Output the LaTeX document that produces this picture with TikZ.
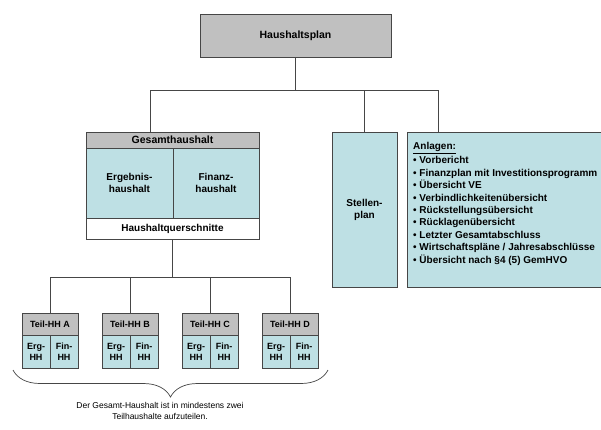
\documentclass[tikz,border=0pt]{standalone}
\usepackage{fontspec}
\setmainfont{Liberation Sans}
\usetikzlibrary{decorations.pathreplacing}
\definecolor{hgray}{RGB}{192,192,192}
\definecolor{hblue}{RGB}{190,224,228}
\definecolor{hline}{RGB}{70,70,70}
\tikzset{
  box/.style={draw=hline, line width=0.7pt, inner sep=0pt, align=center,
    font=\fontsize{10}{12}\selectfont\bfseries},
  graybox/.style={box, fill=hgray},
  bluebox/.style={box, fill=hblue},
  whitebox/.style={box, fill=white},
  smallbox/.style={font=\fontsize{9}{11}\selectfont\bfseries},
  conn/.style={draw=hline, line width=0.8pt},
}
\begin{document}
\begin{tikzpicture}[x=1pt,y=-1pt]
\clip (0,0) rectangle (601,429);
\fill[white] (0,0) rectangle (601,429);
% top
\node[graybox, minimum width=191pt, minimum height=43pt, font=\fontsize{10.5}{12}\selectfont\bfseries] (hp) at (295.5,35.5) {Haushaltsplan};
% Gesamthaushalt
\node[graybox, minimum width=173pt, minimum height=16pt, font=\fontsize{10.5}{12}\selectfont\bfseries] (gesh) at (172.5,140) {Gesamthaushalt};
\node[bluebox, minimum width=87pt, minimum height=70pt] (erg) at (129.5,183) {Ergebnis-\\haushalt};
\node[bluebox, minimum width=86pt, minimum height=70pt] (fin) at (216,183) {Finanz-\\haushalt};
\node[whitebox, minimum width=173pt, minimum height=21pt] (hq) at (172.5,228.5) {Haushaltquerschnitte};
% Stellenplan
\node[bluebox, minimum width=65pt, minimum height=155pt] (st) at (364.5,209.5) {Stellen-\\plan};
% Anlagen
\node[bluebox, minimum width=220pt, minimum height=155pt] (anl) at (517,209.5) {};
\node[anchor=north west, inner sep=0pt, align=left,
  font=\fontsize{10}{12.4}\selectfont\bfseries] (anltxt) at (413,142)
  {\underline{Anlagen:}\\[2pt]
   • Vorbericht\\
   • Finanzplan mit Investitionsprogramm\\
   • Übersicht VE\\
   • Verbindlichkeitenübersicht\\
   • Rückstellungsübersicht\\
   • Rücklagenübersicht\\
   • Letzter Gesamtabschluss\\
   • Wirtschaftspläne / Jahresabschlüsse\\
   • Übersicht nach §4 (5) GemHVO};
% upper bus
\coordinate (bus) at (0,90);
\coordinate (gdrop) at ([xshift=-22.5pt]gesh.north);
\coordinate (adrop) at ([xshift=32pt]anl.north west);
\draw[conn] (hp.south) -- (hp.south |- bus);
\draw[conn] (gdrop |- bus) -- (adrop |- bus);
\draw[conn] (gdrop |- bus) -- (gdrop);
\draw[conn] (st.north |- bus) -- (st.north);
\draw[conn] (adrop |- bus) -- (adrop);
% Teilhaushalte
\foreach \n/\c/\l in {a/50/A, b/130/B, c/210/C, d/290/D}{
  \node[graybox, smallbox, minimum width=56pt, minimum height=22pt] (t\n) at (\c,324) {Teil-HH \l};
  \node[bluebox, smallbox, minimum width=28pt, minimum height=33pt, anchor=north west] (e\n) at (t\n.south west) {Erg-\\HH};
  \node[bluebox, smallbox, minimum width=28pt, minimum height=33pt, anchor=north east] (f\n) at (t\n.south east) {Fin-\\HH};
}
\coordinate (lbus) at (0,277);
\draw[conn] (hq.south) -- (hq.south |- lbus);
\draw[conn] (ta.north |- lbus) -- (td.north |- lbus);
\foreach \n in {a,b,c,d}{
  \draw[conn] (t\n.north |- lbus) -- (t\n.north);
}
% brace
\coordinate (bl) at (13,370);
\coordinate (br) at (328,370);
\draw[draw=hline, line width=0.7pt, decorate, decoration={brace, mirror, amplitude=27pt}] (bl) -- (br);
\node[font=\fontsize{8.5}{11}\selectfont, align=center, anchor=north, inner sep=0pt] (note) at (160,402)
  {Der Gesamt-Haushalt ist in mindestens zwei\\Teilhaushalte aufzuteilen.};
\end{tikzpicture}
\end{document}
